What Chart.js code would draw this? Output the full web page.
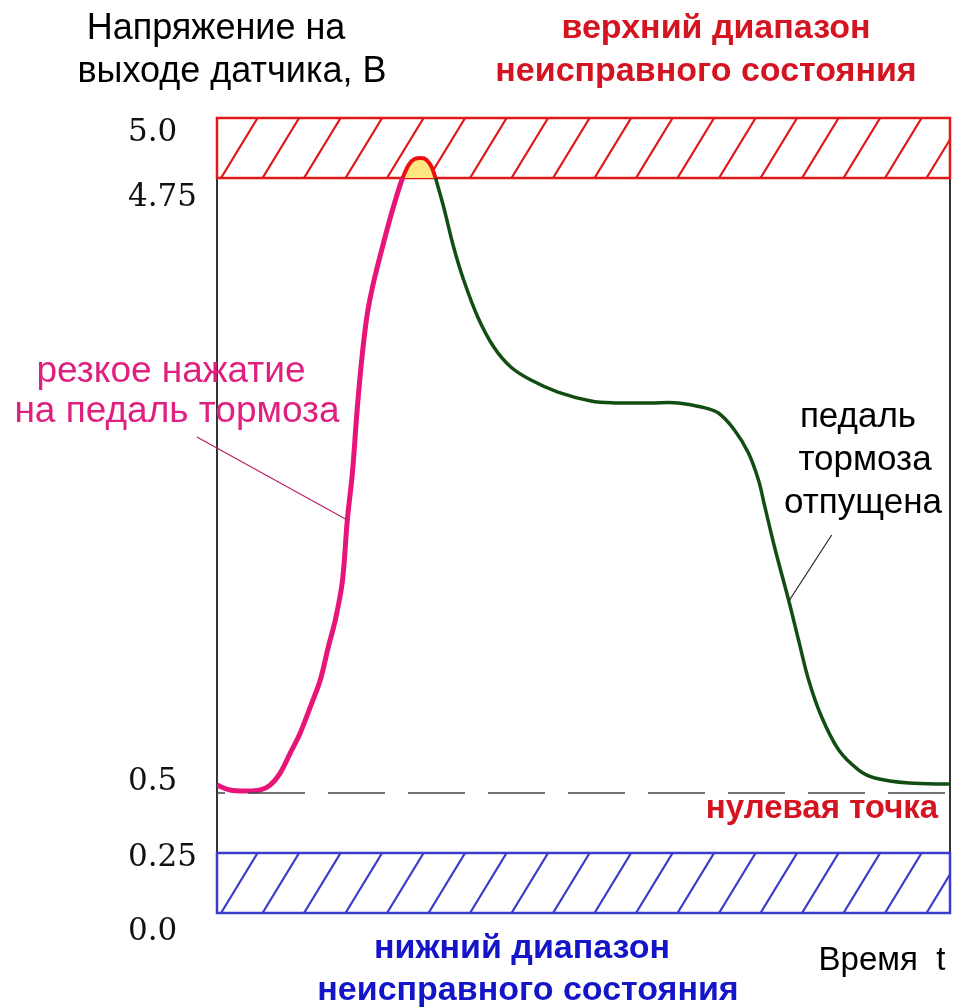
<!DOCTYPE html>
<html><head><meta charset="utf-8">
<script src="https://cdn.jsdelivr.net/npm/chart.js@4.4.0/dist/chart.umd.min.js"></script>
<style>html,body{margin:0;padding:0;background:#fff;overflow:hidden}</style>
</head><body>
<canvas id="c" width="959" height="1007"></canvas>
<script>
// ---- data (volts vs. arbitrary time units 0..100) ----
const tickValues = [0, 0.25, 0.5, 4.75, 5.0];
const tickLabels = ['0.0', '0.25', '0.5', '4.75', '5.0'];
const upperFaultBand = [4.75, 5.0];
const lowerFaultBand = [0, 0.25];
const zeroPoint = 0.5;
const timeRange = [0, 100];

const pressTime  = [0, 1.78, 3.83, 5.88, 7.25, 8.62, 9.99, 11.35, 12.72, 14.09, 15.18, 16.14, 17.10, 17.78, 18.47, 19.15, 19.84, 20.52, 21.34, 22.57, 23.67, 24.76, 25.31];
const pressVolts = [0.555, 0.521, 0.514, 0.521, 0.555, 0.638, 0.776, 0.915, 1.094, 1.281, 1.509, 1.696, 1.960, 2.387, 2.711, 3.168, 3.541, 3.817, 4.025, 4.273, 4.481, 4.667, 4.75];

const peakTime  = [25.31, 26.13, 26.95, 27.77, 28.59, 29.27, 29.82];
const peakVolts = [4.75, 4.804, 4.829, 4.833, 4.825, 4.796, 4.75];

const releaseTime  = [29.82, 30.92, 32.28, 33.65, 35.57, 37.76, 40.08, 42.82, 46.51, 51.03, 54.17, 59.23, 62.93, 66.07, 68.40, 70.59, 72.50, 73.87, 74.69, 76.06, 77.98, 79.34, 80.71, 82.49, 84.82, 87.55, 89.74, 94.39, 100];
const releaseVolts = [4.75, 4.550, 4.273, 4.045, 3.790, 3.582, 3.444, 3.354, 3.271, 3.209, 3.196, 3.196, 3.196, 3.168, 3.126, 3.009, 2.850, 2.663, 2.490, 2.200, 1.834, 1.557, 1.281, 1.025, 0.797, 0.659, 0.604, 0.569, 0.562];

// annotation anchor points in data units [time, volts]
const pressNoteFrom = [-2.74, 2.96], pressNoteTo = [17.78, 2.387];
const releaseNoteFrom = [83.86, 2.283], releaseNoteTo = [78.11, 1.834];

const zip = (xs, ys) => xs.map((x, i) => ({x, y: ys[i]}));

// ---- piecewise (broken) vertical scale ----
class PiecewiseScale extends Chart.LinearScale {
  buildTicks() { return tickValues.map(v => ({value: v})); }
  _frac(v) {
    const b = this.options.breaks;
    if (v <= b[0][0]) return b[0][1];
    for (let i = 1; i < b.length; i++) {
      if (v <= b[i][0]) {
        const [v0, f0] = b[i - 1], [v1, f1] = b[i];
        return f0 + (v - v0) / (v1 - v0) * (f1 - f0);
      }
    }
    return b[b.length - 1][1];
  }
  getPixelForValue(v) { return this.getPixelForDecimal(this._frac(v)); }
  getValueForPixel(p) {
    let d = (p - this._startPixel) / this._length; if (this._reversePixels) d = 1 - d;
    const b = this.options.breaks;
    for (let i = 1; i < b.length; i++) {
      if (d <= b[i][1]) { const [v0, f0] = b[i - 1], [v1, f1] = b[i]; return v0 + (d - f0) / (f1 - f0) * (v1 - v0); }
    }
    return b[b.length - 1][0];
  }
  getPixelForTick(i) {
    const n = this.options.labelNudge || [];
    return this.getPixelForValue(this.ticks[i].value) + (n[i] || 0);
  }
}
PiecewiseScale.id = 'piecewise';
PiecewiseScale.defaults = Chart.LinearScale.defaults;
Chart.register(PiecewiseScale);

// ---- drawing helpers ----
function drawBand(ctx, a, y, band, color) {
  const top = y.getPixelForValue(band[1]), bot = y.getPixelForValue(band[0]);
  const w = a.right - a.left, h = bot - top;
  ctx.save();
  ctx.beginPath(); ctx.rect(a.left, top, w, h); ctx.clip();
  ctx.fillStyle = '#fff'; ctx.fillRect(a.left, top, w, h);
  ctx.strokeStyle = color; ctx.lineWidth = 2.2;
  const dx = h * 0.61, step = 41.5;
  ctx.beginPath();
  for (let bx = a.left + 4 - step; bx < a.right + step; bx += step) {
    ctx.moveTo(bx, bot); ctx.lineTo(bx + dx, top);
  }
  ctx.stroke();
  ctx.restore();
  ctx.save();
  ctx.strokeStyle = color; ctx.lineWidth = 2.5;
  ctx.strokeRect(a.left, top, w, h);
  ctx.restore();
}

const texts = [
  {t: 'Напряжение на', x: 216, y: 39, f: '36px "Liberation Sans"', c: '#000'},
  {t: 'выходе датчика, В', x: 232, y: 82, f: '36px "Liberation Sans"', c: '#000'},
  {t: 'верхний диапазон', x: 716, y: 38, f: 'bold 34px "Liberation Sans"', c: '#d41420'},
  {t: 'неисправного состояния', x: 706, y: 81, f: 'bold 34px "Liberation Sans"', c: '#d41420'},
  {t: 'резкое нажатие', x: 171, y: 382, f: '37px "Liberation Sans"', c: '#e0207f'},
  {t: 'на педаль тормоза', x: 177, y: 422, f: '37px "Liberation Sans"', c: '#e0207f'},
  {t: 'педаль', x: 858, y: 427, f: '35px "Liberation Sans"', c: '#000'},
  {t: 'тормоза', x: 865, y: 470, f: '35px "Liberation Sans"', c: '#000'},
  {t: 'отпущена', x: 863, y: 513, f: '35px "Liberation Sans"', c: '#000'},
  {t: 'нулевая точка', x: 822, y: 818, f: 'bold 33px "Liberation Sans"', c: '#d41420'},
  {t: 'нижний диапазон', x: 522, y: 958, f: 'bold 34px "Liberation Sans"', c: '#1414c8'},
  {t: 'неисправного состояния', x: 528, y: 1000, f: 'bold 34px "Liberation Sans"', c: '#1414c8'},
  {t: 'Время  t', x: 882, y: 970, f: '33px "Liberation Sans"', c: '#000'}
];

const overlay = {
  id: 'overlay',
  beforeDatasetsDraw(chart) {
    const {ctx, chartArea: a, scales: {y}} = chart;
    ctx.save();
    ctx.strokeStyle = '#333'; ctx.lineWidth = 2;
    ctx.beginPath();
    ctx.moveTo(a.left, a.top); ctx.lineTo(a.left, a.bottom);
    ctx.moveTo(a.right, a.top); ctx.lineTo(a.right, a.bottom);
    ctx.stroke();
    ctx.restore();
    drawBand(ctx, a, y, upperFaultBand, '#e01818');
    drawBand(ctx, a, y, lowerFaultBand, '#3c3ccc');
  },
  afterDatasetsDraw(chart) {
    const {ctx, scales: {x, y}} = chart;
    const seg = (p, q, color) => {
      ctx.save(); ctx.strokeStyle = color; ctx.lineWidth = 1.2;
      ctx.beginPath();
      ctx.moveTo(x.getPixelForValue(p[0]), y.getPixelForValue(p[1]));
      ctx.lineTo(x.getPixelForValue(q[0]), y.getPixelForValue(q[1]));
      ctx.stroke(); ctx.restore();
    };
    seg(pressNoteFrom, pressNoteTo, '#c0206a');
    seg(releaseNoteFrom, releaseNoteTo, '#222');
  },
  afterDraw(chart) {
    const ctx = chart.ctx;
    ctx.save();
    ctx.textAlign = 'center'; ctx.textBaseline = 'alphabetic';
    texts.forEach(o => { ctx.font = o.f; ctx.fillStyle = o.c; ctx.fillText(o.t, o.x, o.y); });
    ctx.restore();
  }
};

new Chart(document.getElementById('c'), {
  type: 'line',
  data: {
    datasets: [
      {data: zip(timeRange, timeRange.map(() => zeroPoint)), borderColor: '#444', borderWidth: 1.5,
       borderDash: [57, 23], borderDashOffset: 49, pointRadius: 0, tension: 0},
      {data: zip(pressTime, pressVolts), borderColor: '#e8147a', borderWidth: 5, pointRadius: 0,
       tension: 0.35},
      {data: zip(peakTime, peakVolts), borderColor: '#ee1010', borderWidth: 4, pointRadius: 0,
       cubicInterpolationMode: 'monotone', fill: {value: upperFaultBand[0]}, backgroundColor: '#ffe680'},
      {data: zip(releaseTime, releaseVolts), borderColor: '#124d12', borderWidth: 3.5, pointRadius: 0,
       tension: 0.35}
    ]
  },
  options: {
    responsive: false, animation: false, devicePixelRatio: 1,
    layout: {padding: {left: 128, top: 118, right: 9, bottom: 94}},
    plugins: {legend: {display: false}, tooltip: {enabled: false}, title: {display: false}},
    scales: {
      x: {type: 'linear', min: timeRange[0], max: timeRange[1], display: false},
      y: {
        type: 'piecewise', min: 0, max: 5,
        breaks: [[0, 0], [0.25, 0.0755], [0.5, 0.1509], [4.75, 0.9245], [5.0, 1]],
        labelNudge: [19, 5, -11, 20, 15],
        grid: {display: false, drawTicks: false}, border: {display: false},
        afterFit(s) { s.width = 89; },
        ticks: {
          autoSkip: false, crossAlign: 'far', padding: 0, color: '#111',
          font: {family: '"DejaVu Serif"', size: 31},
          callback: (v, i) => tickLabels[i]
        }
      }
    }
  },
  plugins: [overlay]
});
</script>
</body></html>
